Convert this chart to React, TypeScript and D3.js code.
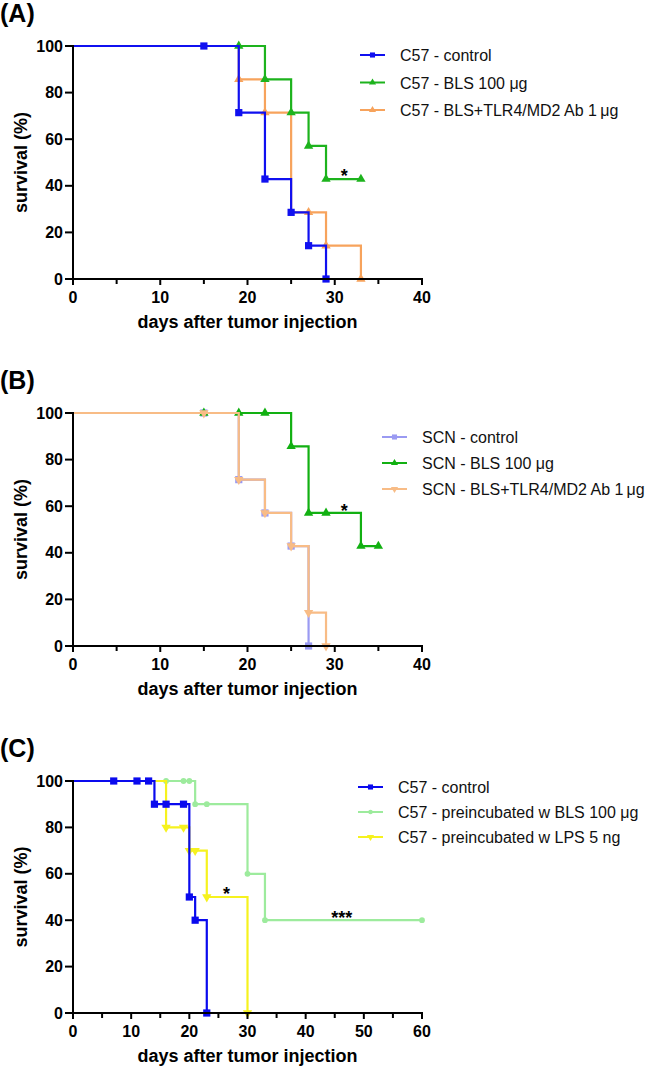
import React from 'react';
import * as d3 from 'd3';

// (A) C57 mice
const daysA_control = [0, 19, 22, 25, 27, 29];
const survA_control = [100, 71.4, 42.9, 28.6, 14.3, 0];
const marksA_control = [15, 19, 22, 25, 27, 29];

const daysA_bls = [0, 22, 25, 27, 29, 33];
const survA_bls = [100, 85.7, 71.4, 57.1, 42.9, 42.9];
const marksA_bls = [19, 22, 25, 27, 29, 33];

const daysA_ab = [0, 19, 22, 25, 29, 33];
const survA_ab = [100, 85.7, 71.4, 28.6, 14.3, 0];
const marksA_ab = [19, 22, 27, 29, 33];

// (B) SCN mice
const daysB_control = [0, 19, 22, 25, 27];
const survB_control = [100, 71.4, 57.1, 42.9, 0];
const marksB_control = [15, 19, 22, 25, 27];

const daysB_bls = [0, 25, 27, 33, 35];
const survB_bls = [100, 85.7, 57.1, 42.9, 42.9];
const marksB_bls = [15, 19, 22, 25, 27, 29, 33, 35];

const daysB_ab = [0, 19, 22, 25, 27, 29];
const survB_ab = [100, 71.4, 57.1, 42.9, 14.3, 0];
const marksB_ab = [15, 19, 22, 25, 27, 29];

// (C) preincubated cells
const daysC_control = [0, 14, 20, 21, 23];
const survC_control = [100, 90, 50, 40, 0];
const marksC_control = [7, 11, 13, 14, 16, 19, 20, 21, 23];

const daysC_bls = [0, 21, 30, 33, 60];
const survC_bls = [100, 90, 60, 40, 40];
const marksC_bls = [16, 19, 20, 21, 23, 30, 33, 60];

const daysC_lps = [0, 16, 20, 23, 30];
const survC_lps = [100, 80, 70, 50, 0];
const marksC_lps = [16, 19, 20, 21, 23, 30];

const legendA = ['C57 - control', 'C57 - BLS 100 \u03bcg', 'C57 - BLS+TLR4/MD2 Ab 1\u2009\u03bcg'];
const legendB = ['SCN - control', 'SCN - BLS 100 \u03bcg', 'SCN - BLS+TLR4/MD2 Ab 1\u2009\u03bcg'];
const legendC = ['C57 - control', 'C57 - preincubated w BLS 100 \u03bcg', 'C57 - preincubated w LPS 5 ng'];

const yTicks = [0, 20, 40, 60, 80, 100];

// significance marks: [day, survival, text]
const starsA: [number, number, string][] = [[31.1, 45.9, '*']];
const starsB: [number, number, string][] = [[31.1, 59.7, '*']];
const starsC: [number, number, string][] = [[26.4, 53, '*'], [46.2, 42.7, '***']];

const FONT = '"Liberation Sans", Arial, Helvetica, sans-serif';
const X_LEFT = 73;
const X_RIGHT = 422;

type Series = {
  name: string;
  days: number[];
  surv: number[];
  marks: number[];
  color: string;
  symbol: 'square' | 'up' | 'down' | 'circle';
};

function survAt(s: Series, day: number) {
  let v = s.surv[0];
  s.days.forEach((d, i) => {
    if (d <= day) v = s.surv[i];
  });
  return v;
}

function symbolPath(kind: string, big: boolean) {
  if (kind === 'square') return d3.symbol().type(d3.symbolSquare).size(big ? 52 : 26)();
  if (kind === 'circle') return d3.symbol().type(d3.symbolCircle).size(big ? 26 : 16)();
  return d3.symbol().type(d3.symbolTriangle).size(big ? 38 : 22)();
}

function Panel({ label, top, bottom, xMax, series, legend, legendX, legendY, legendGap, stars, drawOrder }: any) {
  const x = d3.scaleLinear().domain([0, xMax]).range([X_LEFT, X_RIGHT]);
  const y = d3.scaleLinear().domain([0, 100]).range([bottom, top]);
  const line = d3.line<[number, number]>()
    .x(d => x(d[0]))
    .y(d => y(d[1]))
    .curve(d3.curveStepAfter);

  const major = d3.range(0, xMax + 1, 10);
  const minor = d3.range(5, xMax, 10);

  return (
    <g fontFamily={FONT}>
      <text x={0} y={top - 24} fontSize={25} fontWeight="bold">{label}</text>

      {drawOrder.map((idx: number) => {
        const s: Series = series[idx];
        const pts = s.days.map((d, i) => [d, s.surv[i]] as [number, number]);
        return (
          <g key={s.name}>
            <path d={line(pts) || ''} fill="none" stroke={s.color} strokeWidth={2.2} />
            {s.marks.map((m, i) => (
              <path key={i} d={symbolPath(s.symbol, true) || ''} fill={s.color}
                transform={`translate(${x(m)},${y(survAt(s, m))})${s.symbol === 'down' ? ' rotate(180)' : ''}`} />
            ))}
          </g>
        );
      })}

      {/* axes */}
      <line x1={X_LEFT} x2={X_LEFT} y1={top - 1} y2={bottom} stroke="#000" strokeWidth={2} />
      <line x1={X_LEFT - 8} x2={X_RIGHT + 1} y1={bottom} y2={bottom} stroke="#000" strokeWidth={2} />
      {yTicks.map(t => (
        <g key={t}>
          <line x1={X_LEFT - 8} x2={X_LEFT} y1={y(t)} y2={y(t)} stroke="#000" strokeWidth={2} />
          <text x={X_LEFT - 10} y={y(t) + 5.5} fontSize={16} fontWeight="bold" textAnchor="end">{t}</text>
        </g>
      ))}
      {major.map(t => (
        <g key={t}>
          <line x1={x(t)} x2={x(t)} y1={bottom} y2={bottom + 6} stroke="#000" strokeWidth={2} />
          <text x={x(t)} y={bottom + 24} fontSize={16} fontWeight="bold" textAnchor="middle">{t}</text>
        </g>
      ))}
      {minor.map(t => (
        <line key={t} x1={x(t)} x2={x(t)} y1={bottom} y2={bottom + 5} stroke="#000" strokeWidth={2} />
      ))}
      <text x={(X_LEFT + X_RIGHT) / 2} y={bottom + 49} fontSize={18} fontWeight="bold" textAnchor="middle">
        days after tumor injection
      </text>
      <text transform={`translate(27,${(top + bottom) / 2}) rotate(-90)`} fontSize={18} fontWeight="bold" textAnchor="middle">
        survival (%)
      </text>

      {stars.map(([d, v, t]: [number, number, string], i: number) => (
        <text key={i} x={x(d)} y={y(v) + 10} fontSize={18} fontWeight="bold" textAnchor="middle">{t}</text>
      ))}

      {/* legend */}
      {series.map((s: Series, i: number) => {
        const ly = legendY + i * legendGap;
        return (
          <g key={s.name}>
            <line x1={legendX} x2={legendX + 25} y1={ly} y2={ly} stroke={s.color} strokeWidth={2} />
            <path d={symbolPath(s.symbol, false) || ''} fill={s.color}
              transform={`translate(${legendX + 12.5},${ly})${s.symbol === 'down' ? ' rotate(180)' : ''}`} />
            <text x={legendX + 40} y={ly + 6} fontSize={16} fill="#111">{legend[i]}</text>
          </g>
        );
      })}
    </g>
  );
}

export default function App() {
  const seriesA: Series[] = [
    { name: 'a0', days: daysA_control, surv: survA_control, marks: marksA_control, color: '#1010F0', symbol: 'square' },
    { name: 'a1', days: daysA_bls, surv: survA_bls, marks: marksA_bls, color: '#1DB31D', symbol: 'up' },
    { name: 'a2', days: daysA_ab, surv: survA_ab, marks: marksA_ab, color: '#F7A35C', symbol: 'up' },
  ];
  const seriesB: Series[] = [
    { name: 'b0', days: daysB_control, surv: survB_control, marks: marksB_control, color: '#9A9AF2', symbol: 'square' },
    { name: 'b1', days: daysB_bls, surv: survB_bls, marks: marksB_bls, color: '#12B012', symbol: 'up' },
    { name: 'b2', days: daysB_ab, surv: survB_ab, marks: marksB_ab, color: '#F8BC86', symbol: 'down' },
  ];
  const seriesC: Series[] = [
    { name: 'c0', days: daysC_control, surv: survC_control, marks: marksC_control, color: '#0A0AEE', symbol: 'square' },
    { name: 'c1', days: daysC_bls, surv: survC_bls, marks: marksC_bls, color: '#9DEB9D', symbol: 'circle' },
    { name: 'c2', days: daysC_lps, surv: survC_lps, marks: marksC_lps, color: '#F6F21E', symbol: 'down' },
  ];

  return (
    <svg width={651} height={1070} style={{ position: 'absolute', left: 0, top: 0, background: '#fff' }}>
      <rect width={651} height={1070} fill="#fff" />
      <Panel label="(A)" top={46} bottom={279} xMax={40} series={seriesA} legend={legendA}
        legendX={360} legendY={55} legendGap={27.5} stars={starsA} drawOrder={[2, 1, 0]} />
      <Panel label="(B)" top={413} bottom={646} xMax={40} series={seriesB} legend={legendB}
        legendX={382} legendY={437} legendGap={26} stars={starsB} drawOrder={[0, 1, 2]} />
      <Panel label="(C)" top={781} bottom={1013} xMax={60} series={seriesC} legend={legendC}
        legendX={358} legendY={787} legendGap={25} stars={starsC} drawOrder={[1, 2, 0]} />
    </svg>
  );
}
